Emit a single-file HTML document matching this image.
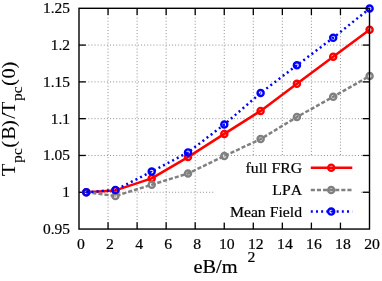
<!DOCTYPE html>
<html><head><meta charset="utf-8"><title>plot</title>
<style>
html,body{margin:0;padding:0;background:#fff;}
body{width:382px;height:281px;overflow:hidden;}
svg{display:block;will-change:transform;}
text{font-family:"Liberation Serif",serif;fill:#000;font-kerning:none;stroke:#000;stroke-width:0.2px;}
.yl text{stroke-width:0.05px;}
</style></head><body>
<svg width="382" height="281" viewBox="0 0 382 281">
<rect x="0" y="0" width="382" height="281" fill="#fff"/>
<g stroke="#909090" stroke-width="1" stroke-dasharray="1,2.1" fill="none"><line x1="108.05" y1="8.3" x2="108.05" y2="229.05"/><line x1="137.10" y1="8.3" x2="137.10" y2="229.05"/><line x1="166.15" y1="8.3" x2="166.15" y2="229.05"/><line x1="195.20" y1="8.3" x2="195.20" y2="229.05"/><line x1="224.25" y1="8.3" x2="224.25" y2="229.05"/><line x1="253.30" y1="8.3" x2="253.30" y2="229.05"/><line x1="282.35" y1="8.3" x2="282.35" y2="229.05"/><line x1="311.40" y1="8.3" x2="311.40" y2="229.05"/><line x1="340.45" y1="8.3" x2="340.45" y2="229.05"/><line x1="79.0" y1="192.26" x2="369.5" y2="192.26"/><line x1="79.0" y1="155.47" x2="369.5" y2="155.47"/><line x1="79.0" y1="118.67" x2="369.5" y2="118.67"/><line x1="79.0" y1="81.88" x2="369.5" y2="81.88"/><line x1="79.0" y1="45.09" x2="369.5" y2="45.09"/></g>
<g stroke="#000" stroke-width="1.3" fill="none"><line x1="108.05" y1="229.05" x2="108.05" y2="222.25"/><line x1="108.05" y1="8.3" x2="108.05" y2="15.100000000000001"/><line x1="137.10" y1="229.05" x2="137.10" y2="222.25"/><line x1="137.10" y1="8.3" x2="137.10" y2="15.100000000000001"/><line x1="166.15" y1="229.05" x2="166.15" y2="222.25"/><line x1="166.15" y1="8.3" x2="166.15" y2="15.100000000000001"/><line x1="195.20" y1="229.05" x2="195.20" y2="222.25"/><line x1="195.20" y1="8.3" x2="195.20" y2="15.100000000000001"/><line x1="224.25" y1="229.05" x2="224.25" y2="222.25"/><line x1="224.25" y1="8.3" x2="224.25" y2="15.100000000000001"/><line x1="253.30" y1="229.05" x2="253.30" y2="222.25"/><line x1="253.30" y1="8.3" x2="253.30" y2="15.100000000000001"/><line x1="282.35" y1="229.05" x2="282.35" y2="222.25"/><line x1="282.35" y1="8.3" x2="282.35" y2="15.100000000000001"/><line x1="311.40" y1="229.05" x2="311.40" y2="222.25"/><line x1="311.40" y1="8.3" x2="311.40" y2="15.100000000000001"/><line x1="340.45" y1="229.05" x2="340.45" y2="222.25"/><line x1="340.45" y1="8.3" x2="340.45" y2="15.100000000000001"/><line x1="79.0" y1="192.26" x2="85.8" y2="192.26"/><line x1="369.5" y1="192.26" x2="362.7" y2="192.26"/><line x1="79.0" y1="155.47" x2="85.8" y2="155.47"/><line x1="369.5" y1="155.47" x2="362.7" y2="155.47"/><line x1="79.0" y1="118.67" x2="85.8" y2="118.67"/><line x1="369.5" y1="118.67" x2="362.7" y2="118.67"/><line x1="79.0" y1="81.88" x2="85.8" y2="81.88"/><line x1="369.5" y1="81.88" x2="362.7" y2="81.88"/><line x1="79.0" y1="45.09" x2="85.8" y2="45.09"/><line x1="369.5" y1="45.09" x2="362.7" y2="45.09"/></g>
<rect x="215" y="156.5" width="145.5" height="66" fill="#fff"/>
<polyline points="86.3,192.3 115.4,190.4 151.7,178.4 188.0,157.1 224.3,133.9 260.6,110.9 296.9,83.8 333.2,56.7 369.6,29.8" fill="none" stroke="#ff0000" stroke-width="2.5" stroke-linejoin="round"/>
<circle cx="86.3" cy="192.3" r="3.05" fill="none" stroke="#ff0000" stroke-width="2.4"/><circle cx="86.3" cy="192.3" r="0.8" fill="#ff0000"/><circle cx="115.4" cy="190.4" r="3.05" fill="none" stroke="#ff0000" stroke-width="2.4"/><circle cx="115.4" cy="190.4" r="0.8" fill="#ff0000"/><circle cx="151.7" cy="178.4" r="3.05" fill="none" stroke="#ff0000" stroke-width="2.4"/><circle cx="151.7" cy="178.4" r="0.8" fill="#ff0000"/><circle cx="188.0" cy="157.1" r="3.05" fill="none" stroke="#ff0000" stroke-width="2.4"/><circle cx="188.0" cy="157.1" r="0.8" fill="#ff0000"/><circle cx="224.3" cy="133.9" r="3.05" fill="none" stroke="#ff0000" stroke-width="2.4"/><circle cx="224.3" cy="133.9" r="0.8" fill="#ff0000"/><circle cx="260.6" cy="110.9" r="3.05" fill="none" stroke="#ff0000" stroke-width="2.4"/><circle cx="260.6" cy="110.9" r="0.8" fill="#ff0000"/><circle cx="296.9" cy="83.8" r="3.05" fill="none" stroke="#ff0000" stroke-width="2.4"/><circle cx="296.9" cy="83.8" r="0.8" fill="#ff0000"/><circle cx="333.2" cy="56.7" r="3.05" fill="none" stroke="#ff0000" stroke-width="2.4"/><circle cx="333.2" cy="56.7" r="0.8" fill="#ff0000"/><circle cx="369.6" cy="29.8" r="3.05" fill="none" stroke="#ff0000" stroke-width="2.4"/><circle cx="369.6" cy="29.8" r="0.8" fill="#ff0000"/>
<polyline points="86.3,192.3 115.4,196.0 151.7,184.7 188.0,173.5 224.3,156.0 260.6,139.1 296.9,117.0 333.2,96.8 369.6,76.0" fill="none" stroke="#808080" stroke-width="2.5" stroke-dasharray="4.1,2.0"/>
<circle cx="86.3" cy="192.3" r="3.05" fill="none" stroke="#808080" stroke-width="2.4"/><circle cx="86.3" cy="192.3" r="0.8" fill="#808080"/><circle cx="115.4" cy="196.0" r="3.05" fill="none" stroke="#808080" stroke-width="2.4"/><circle cx="115.4" cy="196.0" r="0.8" fill="#808080"/><circle cx="151.7" cy="184.7" r="3.05" fill="none" stroke="#808080" stroke-width="2.4"/><circle cx="151.7" cy="184.7" r="0.8" fill="#808080"/><circle cx="188.0" cy="173.5" r="3.05" fill="none" stroke="#808080" stroke-width="2.4"/><circle cx="188.0" cy="173.5" r="0.8" fill="#808080"/><circle cx="224.3" cy="156.0" r="3.05" fill="none" stroke="#808080" stroke-width="2.4"/><circle cx="224.3" cy="156.0" r="0.8" fill="#808080"/><circle cx="260.6" cy="139.1" r="3.05" fill="none" stroke="#808080" stroke-width="2.4"/><circle cx="260.6" cy="139.1" r="0.8" fill="#808080"/><circle cx="296.9" cy="117.0" r="3.05" fill="none" stroke="#808080" stroke-width="2.4"/><circle cx="296.9" cy="117.0" r="0.8" fill="#808080"/><circle cx="333.2" cy="96.8" r="3.05" fill="none" stroke="#808080" stroke-width="2.4"/><circle cx="333.2" cy="96.8" r="0.8" fill="#808080"/><circle cx="369.6" cy="76.0" r="3.05" fill="none" stroke="#808080" stroke-width="2.4"/><circle cx="369.6" cy="76.0" r="0.8" fill="#808080"/>
<polyline points="86.3,192.3 115.4,189.9 151.7,171.6 188.0,152.4 224.3,124.5 260.6,93.0 296.9,65.3 333.2,37.8 369.6,8.5" fill="none" stroke="#0000ff" stroke-width="2.5" stroke-dasharray="2,3.17"/>
<circle cx="86.3" cy="192.3" r="3.05" fill="none" stroke="#0000ff" stroke-width="2.4"/><circle cx="86.3" cy="192.3" r="0.8" fill="#0000ff"/><circle cx="115.4" cy="189.9" r="3.05" fill="none" stroke="#0000ff" stroke-width="2.4"/><circle cx="115.4" cy="189.9" r="0.8" fill="#0000ff"/><circle cx="151.7" cy="171.6" r="3.05" fill="none" stroke="#0000ff" stroke-width="2.4"/><circle cx="151.7" cy="171.6" r="0.8" fill="#0000ff"/><circle cx="188.0" cy="152.4" r="3.05" fill="none" stroke="#0000ff" stroke-width="2.4"/><circle cx="188.0" cy="152.4" r="0.8" fill="#0000ff"/><circle cx="224.3" cy="124.5" r="3.05" fill="none" stroke="#0000ff" stroke-width="2.4"/><circle cx="224.3" cy="124.5" r="0.8" fill="#0000ff"/><circle cx="260.6" cy="93.0" r="3.05" fill="none" stroke="#0000ff" stroke-width="2.4"/><circle cx="260.6" cy="93.0" r="0.8" fill="#0000ff"/><circle cx="296.9" cy="65.3" r="3.05" fill="none" stroke="#0000ff" stroke-width="2.4"/><circle cx="296.9" cy="65.3" r="0.8" fill="#0000ff"/><circle cx="333.2" cy="37.8" r="3.05" fill="none" stroke="#0000ff" stroke-width="2.4"/><circle cx="333.2" cy="37.8" r="0.8" fill="#0000ff"/><circle cx="369.6" cy="8.5" r="3.05" fill="none" stroke="#0000ff" stroke-width="2.4"/><circle cx="369.6" cy="8.5" r="0.8" fill="#0000ff"/>
<text transform="translate(302.0,172.8) scale(1.05,1)" font-size="15.0" text-anchor="end">full FRG</text><line x1="310.8" y1="167.7" x2="352.3" y2="167.7" stroke="#ff0000" stroke-width="2.5"/><circle cx="331.2" cy="167.7" r="3.05" fill="none" stroke="#ff0000" stroke-width="2.4"/><circle cx="331.2" cy="167.7" r="0.8" fill="#ff0000"/>
<text transform="translate(302.0,195.1) scale(1.05,1)" font-size="15.0" text-anchor="end">LPA</text><line x1="310.8" y1="190.0" x2="352.3" y2="190.0" stroke="#808080" stroke-width="2.5" stroke-dasharray="4.1,2.0"/><circle cx="331.2" cy="190.0" r="3.05" fill="none" stroke="#808080" stroke-width="2.4"/><circle cx="331.2" cy="190.0" r="0.8" fill="#808080"/>
<text transform="translate(302.0,216.7) scale(1.05,1)" font-size="15.0" text-anchor="end">Mean Field</text><line x1="310.8" y1="211.6" x2="352.3" y2="211.6" stroke="#0000ff" stroke-width="2.5" stroke-dasharray="2,3.17"/><circle cx="331.2" cy="211.6" r="3.05" fill="none" stroke="#0000ff" stroke-width="2.4"/><circle cx="331.2" cy="211.6" r="0.8" fill="#0000ff"/>
<rect x="79.0" y="8.3" width="290.5" height="220.75" fill="none" stroke="#000" stroke-width="1.4"/>
<text transform="translate(70.0,234.0) scale(1.03,1)" font-size="15.0" text-anchor="end">0.95</text><text transform="translate(70.0,197.2) scale(1.03,1)" font-size="15.0" text-anchor="end">1</text><text transform="translate(70.0,160.4) scale(1.03,1)" font-size="15.0" text-anchor="end">1.05</text><text transform="translate(70.0,123.6) scale(1.03,1)" font-size="15.0" text-anchor="end">1.1</text><text transform="translate(70.0,86.8) scale(1.03,1)" font-size="15.0" text-anchor="end">1.15</text><text transform="translate(70.0,50.0) scale(1.03,1)" font-size="15.0" text-anchor="end">1.2</text><text transform="translate(70.0,13.2) scale(1.03,1)" font-size="15.0" text-anchor="end">1.25</text>
<text transform="translate(81.0,249.0) scale(1.05,1)" font-size="15.0" text-anchor="middle">0</text><text transform="translate(110.0,249.0) scale(1.05,1)" font-size="15.0" text-anchor="middle">2</text><text transform="translate(139.1,249.0) scale(1.05,1)" font-size="15.0" text-anchor="middle">4</text><text transform="translate(168.2,249.0) scale(1.05,1)" font-size="15.0" text-anchor="middle">6</text><text transform="translate(197.2,249.0) scale(1.05,1)" font-size="15.0" text-anchor="middle">8</text><text transform="translate(226.8,249.0) scale(1.05,1)" font-size="15.0" text-anchor="middle">10</text><text transform="translate(255.8,249.0) scale(1.05,1)" font-size="15.0" text-anchor="middle">12</text><text transform="translate(284.9,249.0) scale(1.05,1)" font-size="15.0" text-anchor="middle">14</text><text transform="translate(313.9,249.0) scale(1.05,1)" font-size="15.0" text-anchor="middle">16</text><text transform="translate(342.9,249.0) scale(1.05,1)" font-size="15.0" text-anchor="middle">18</text><text transform="translate(372.0,249.0) scale(1.05,1)" font-size="15.0" text-anchor="middle">20</text>
<text transform="translate(193.4,272.8) scale(1.05,1)" font-size="19.4" text-anchor="start">eB/m</text><text transform="translate(247.5,262.3) scale(1.05,1)" font-size="15" text-anchor="start">2</text>
<g class="yl" transform="translate(15.1,176) rotate(-90)"><text transform="translate(-0.1,0.0) scale(1.05,1)" font-size="19.4" text-anchor="start">T</text><text transform="translate(13.1,7.0) scale(1.05,1)" font-size="15" text-anchor="start">pc</text><text transform="translate(28.3,0.0) scale(1.05,1)" font-size="19.4" text-anchor="start">(</text><text transform="translate(36.3,0.0) scale(1.05,1)" font-size="19.4" text-anchor="start">B</text><text transform="translate(49.0,0.0) scale(1.05,1)" font-size="19.4" text-anchor="start">)</text><text transform="translate(57.2,0.0) scale(1.05,1)" font-size="19.4" text-anchor="start">/</text><text transform="translate(61.9,0.0) scale(1.05,1)" font-size="19.4" text-anchor="start">T</text><text transform="translate(74.9,7.0) scale(1.05,1)" font-size="15" text-anchor="start">pc</text><text transform="translate(90.1,0.0) scale(1.05,1)" font-size="19.4" text-anchor="start">(</text><text transform="translate(97.6,0.0) scale(1.05,1)" font-size="19.4" text-anchor="start">0</text><text transform="translate(107.5,0.0) scale(1.05,1)" font-size="19.4" text-anchor="start">)</text></g>
</svg>
</body></html>
